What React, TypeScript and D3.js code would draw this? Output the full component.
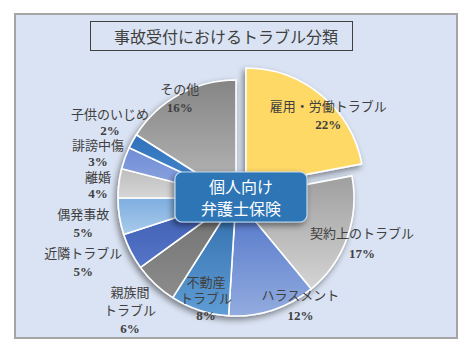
import React from 'react';
import * as d3 from 'd3';

// data
const categories = [
  '雇用・労働トラブル',
  '契約上のトラブル',
  'ハラスメント',
  '不動産\nトラブル',
  '親族間\nトラブル',
  '近隣トラブル',
  '偶発事故',
  '離婚',
  '誹謗中傷',
  '子供のいじめ',
  'その他',
];
const values = [22, 17, 12, 8, 6, 5, 5, 4, 3, 2, 16];

const title = '事故受付におけるトラブル分類';
const hubLines = ['個人向け', '弁護士保険'];

// style / layout tables (kept apart from the data)
const topColors = ['#ffd966', '#9f9f9f', '#4d72c8', '#2f6aa8', '#6f6f6f', '#3c5cae', '#7eaee0', '#bdbdbd', '#6f8dd6', '#2f72bb', '#858585'];
const bottomColors = ['#ffd966', '#d4d4d4', '#93acdf', '#5f9dd6', '#8c8c8c', '#5575c8', '#a9cbeb', '#d6d6d6', '#93a9e0', '#4a8ad0', '#bababa'];
const labelDist = [108, 134, 125, 105, 155, 166, 155, 138.5, 144.8, 147.1, 114];
const labelTurn = [10, 0, -13, -1.4, 0, 4, -0.6, -2.2, -2.1, 2.3, -0.7];
const labelLineH = [18, 20, 20, 16.5, 18, 18, 18, 16, 16, 16, 18];
const explode = [15.6, 0, 0, 0, 0, 0, 0, 0, 0, 0, 0];

const width = 471;
const height = 352;
const cx = 236;
const cy = 198;
const radius = 118;

const labelFont = "'Liberation Serif', 'Noto Sans CJK JP', serif";
const sansFont = "'Noto Sans CJK JP', sans-serif";

export default function App() {
  const pie = d3.pie<number>().sort(null).value(d => d).startAngle(0).endAngle(2 * Math.PI);
  const arcs = pie(values);
  const arc = d3.arc<d3.PieArcDatum<number>>().innerRadius(0).outerRadius(radius);

  const sliceCenter = (d: d3.PieArcDatum<number>, i: number) => {
    const mid = (d.startAngle + d.endAngle) / 2;
    return [cx + explode[i] * Math.sin(mid), cy - explode[i] * Math.cos(mid)];
  };

  return (
    <div style={{ position: 'absolute', left: 0, top: 0 }}>
      <svg width={width} height={height} style={{ display: 'block', background: '#fff' }}>
        <defs>
          <filter id="shadow" x="-20%" y="-20%" width="140%" height="140%">
            <feDropShadow dx={-2} dy={3} stdDeviation={3} floodColor="#000" floodOpacity={0.45} />
          </filter>
          {arcs.map((d, i) => (
            <linearGradient key={i} id={`g${i}`} x1="0" y1="0" x2="0" y2="1">
              <stop offset="0%" stopColor={topColors[i]} />
              <stop offset="100%" stopColor={bottomColors[i]} />
            </linearGradient>
          ))}
        </defs>

        <rect x={15} y={14} width={442} height={324} fill="#dae3f3" stroke="#a5a5a5" strokeWidth={2} />

        <rect x={90.5} y={21.5} width={262} height={29} fill="none" stroke="#404040" strokeWidth={1} />
        <text x={226} y={36} textAnchor="middle" dominantBaseline="central"
          fontFamily={sansFont} fontSize={16} fill="#404040">{title}</text>

        <g filter="url(#shadow)">
          {arcs.map((d, i) => {
            const [x, y] = sliceCenter(d, i);
            return (
              <path key={i} d={arc(d) as string} transform={`translate(${x},${y})`}
                fill={`url(#g${i})`} stroke="#fff" strokeWidth={1.6} strokeLinejoin="round" />
            );
          })}
        </g>

        <g filter="url(#shadow)">
          <rect x={175} y={172} width={132} height={50} rx={7} fill="#2e75b6" stroke="#bdd7ee" strokeWidth={1.2} />
        </g>
        {hubLines.map((t, k) => (
          <text key={k} x={241} y={197 + (k - 0.5) * 22} textAnchor="middle" dominantBaseline="central"
            fontFamily={sansFont} fontSize={16} fill="#fff">{t}</text>
        ))}

        {arcs.map((d, i) => {
          const [x0, y0] = sliceCenter(d, i);
          const a = (d.startAngle + d.endAngle) / 2 + (labelTurn[i] * Math.PI) / 180;
          const x = x0 + labelDist[i] * Math.sin(a);
          const y = y0 - labelDist[i] * Math.cos(a);
          const lines = [...categories[i].split('\n'), `${values[i]}%`];
          return (
            <g key={i} fontFamily={labelFont} fontSize={13} fill="#404040" textAnchor="middle">
              {lines.map((t, k) => (
                <text key={k} x={x} y={y + (k - (lines.length - 1) / 2) * labelLineH[i]} dominantBaseline="central"
                  fontWeight={k === lines.length - 1 ? 'bold' : 'normal'}>{t}</text>
              ))}
            </g>
          );
        })}
      </svg>
    </div>
  );
}
